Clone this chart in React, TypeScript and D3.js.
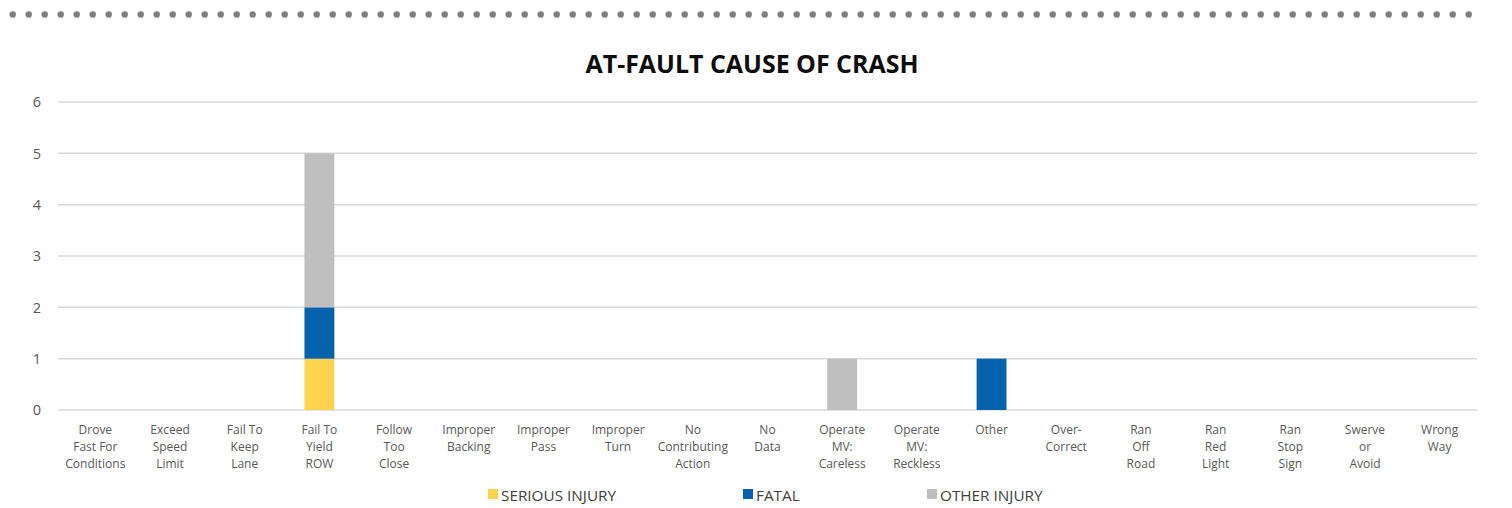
import React, { useEffect } from "react";
import * as d3 from "d3";

const categories: string[] = [
  "Drove\nFast For\nConditions",
  "Exceed\nSpeed\nLimit",
  "Fail To\nKeep\nLane",
  "Fail To\nYield\nROW",
  "Follow\nToo\nClose",
  "Improper\nBacking",
  "Improper\nPass",
  "Improper\nTurn",
  "No\nContributing\nAction",
  "No\nData",
  "Operate\nMV:\nCareless",
  "Operate\nMV:\nReckless",
  "Other",
  "Over-\nCorrect",
  "Ran\nOff\nRoad",
  "Ran\nRed\nLight",
  "Ran\nStop\nSign",
  "Swerve\nor\nAvoid",
  "Wrong\nWay",
];

const seriesNames: string[] = ["SERIOUS INJURY", "FATAL", "OTHER INJURY"];
const seriesColors: string[] = ["#FFD34F", "#0562AD", "#BFBFBF"];

const seriousInjury: number[] = [0, 0, 0, 1, 0, 0, 0, 0, 0, 0, 0, 0, 0, 0, 0, 0, 0, 0, 0];
const fatal: number[] = [0, 0, 0, 1, 0, 0, 0, 0, 0, 0, 0, 0, 1, 0, 0, 0, 0, 0, 0];
const otherInjury: number[] = [0, 0, 0, 3, 0, 0, 0, 0, 0, 0, 1, 0, 0, 0, 0, 0, 0, 0, 0];

const yTicks: number[] = [0, 1, 2, 3, 4, 5, 6];
const title = "AT-FAULT CAUSE OF CRASH";

const W = 1512;
const H = 508;
const plotLeft = 58;
const plotRight = 1477;
const plotTop = 102;
const plotBottom = 410;
const legendX = [488, 743, 927];
const FONT = "'Open Sans', sans-serif";

export default function App() {
  useEffect(() => {
    document.body.style.margin = "0";
  }, []);

  const rows = categories.map((c, i) => ({
    cat: c,
    s0: seriousInjury[i],
    s1: fatal[i],
    s2: otherInjury[i],
  }));
  const stack = d3.stack<any>().keys(["s0", "s1", "s2"]);
  const stacked = stack(rows);

  const x = d3
    .scaleBand<string>()
    .domain(categories)
    .range([plotLeft, plotRight])
    .paddingInner(0.6)
    .paddingOuter(0.3);
  const y = d3.scaleLinear().domain([0, 6]).range([plotBottom, plotTop]);

  const dots = d3.range(12.7, 1472, 16);

  return (
    <svg
      width={W}
      height={H}
      style={{ position: "absolute", left: 0, top: 0, background: "#fff" }}
      fontFamily={FONT}
    >
      {dots.map((cx, i) => (
        <circle key={i} cx={cx} cy={14.5} r={3.2} fill="#7F7F7F" />
      ))}
      <text
        x={752}
        y={73}
        textAnchor="middle"
        fontSize={24.5}
        fontWeight="bold"
        fill="#0d0d0d"
        textLength={333}
        lengthAdjust="spacingAndGlyphs"
      >
        {title}
      </text>
      {yTicks.map((t) => (
        <g key={t}>
          <line
            x1={plotLeft}
            x2={plotRight}
            y1={y(t)}
            y2={y(t)}
            stroke="#D9D9D9"
            strokeWidth={1.5}
          />
          <text
            x={41}
            y={y(t)}
            dy="0.36em"
            textAnchor="end"
            fontSize={14.5}
            fill="#595959"
          >
            {t}
          </text>
        </g>
      ))}
      {stacked.map((layer, si) => (
        <g key={si} fill={seriesColors[si]}>
          {layer.map((d, i) =>
            d[1] - d[0] > 0 ? (
              <rect
                key={i}
                x={x(categories[i])}
                width={x.bandwidth()}
                y={y(d[1])}
                height={y(d[0]) - y(d[1])}
              />
            ) : null
          )}
        </g>
      ))}
      {categories.map((c) => {
        const cx = (x(c) as number) + x.bandwidth() / 2;
        return (
          <text key={c} textAnchor="middle" fontSize={12} fill="#595959">
            {c.split("\n").map((line, li) => (
              <tspan key={li} x={cx} y={434 + li * 17}>
                {line}
              </tspan>
            ))}
          </text>
        );
      })}
      {seriesNames.map((name, i) => (
        <g key={name}>
          <rect x={legendX[i]} y={489} width={10} height={10} fill={seriesColors[i]} />
          <text x={legendX[i] + 13} y={500.5} fontSize={15.3} fill="#404040">
            {name}
          </text>
        </g>
      ))}
    </svg>
  );
}
